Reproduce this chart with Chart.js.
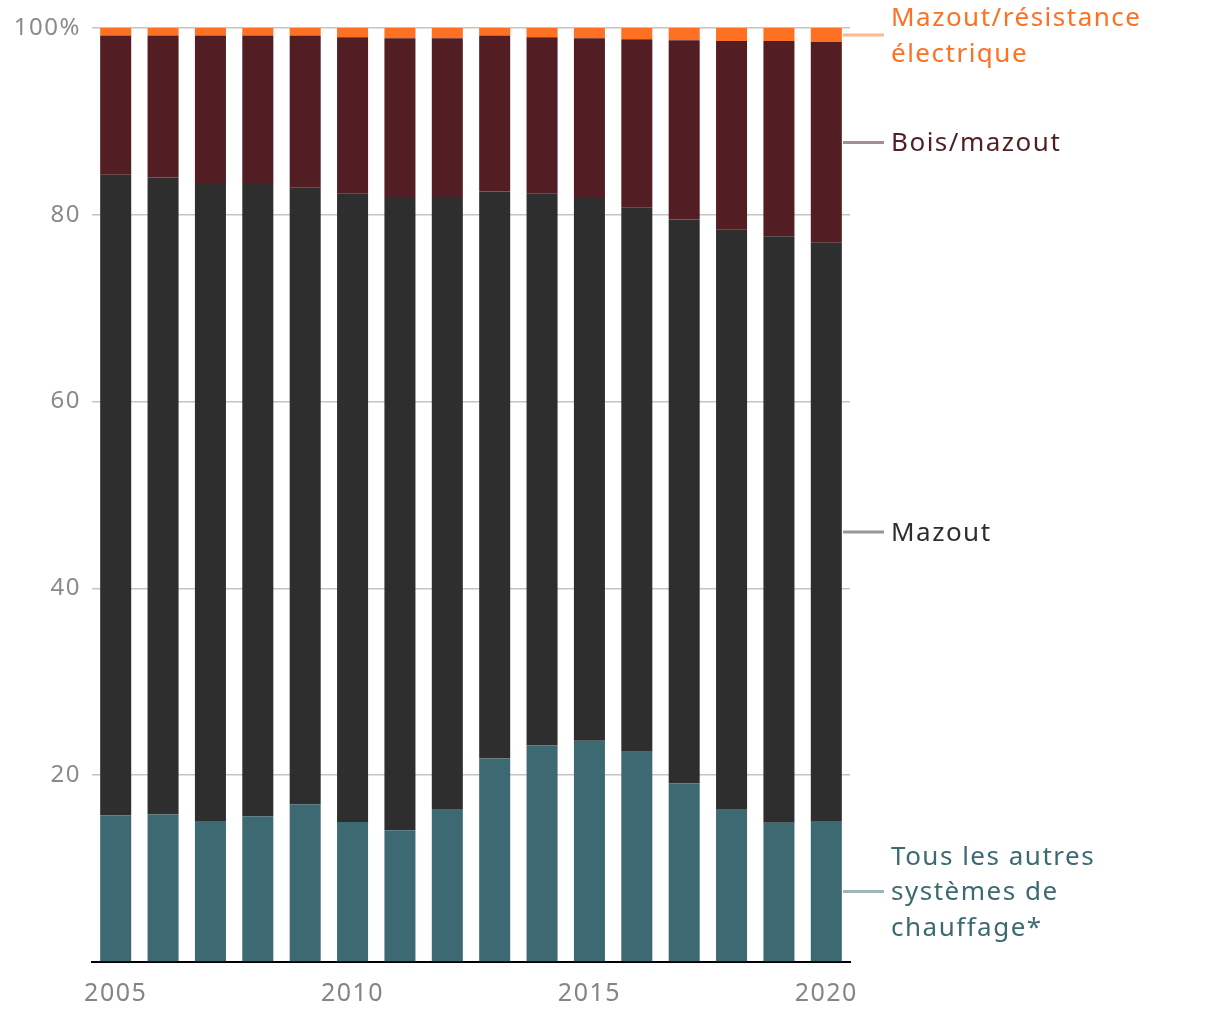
<!DOCTYPE html>
<html lang="fr">
<head>
    <meta charset="UTF-8">
    <title>Systèmes de chauffage</title>
    <script src="https://cdn.jsdelivr.net/npm/chart.js"></script>
    <style>
        html, body { margin: 0; padding: 0; background: #fff; }
        #wrap { width: 1220px; height: 1020px; }
    </style>
</head>
<body>
    <div id="wrap"><canvas id="chauffage" width="1220" height="1020"></canvas></div>

    <script>
        // Données (en %)
        const annees = ["2005", "2006", "2007", "2008", "2009", "2010", "2011", "2012",
                        "2013", "2014", "2015", "2016", "2017", "2018", "2019", "2020"];
        const autres = [15.7, 15.8, 15.1, 15.6, 16.9, 15.0, 14.1, 16.3, 21.8, 23.2, 23.7, 22.5, 19.1, 16.3, 14.9, 15.1];
        const mazout = [68.6, 68.2, 68.2, 67.7, 66.0, 67.3, 67.8, 65.6, 60.7, 59.1, 58.2, 58.3, 60.4, 62.1, 62.8, 61.9];
        const boisMazout = [14.9, 15.2, 15.9, 15.9, 16.3, 16.7, 17.0, 17.0, 16.7, 16.7, 17.0, 18.0, 19.2, 20.2, 20.9, 21.5];
        const mazoutResistance = [0.8, 0.8, 0.8, 0.8, 0.8, 1.0, 1.1, 1.1, 0.8, 1.0, 1.1, 1.2, 1.3, 1.4, 1.4, 1.5];
        const yTicks = [0, 20, 40, 60, 80, 100];
        const xTicksAffiches = ["2005", "2010", "2015", "2020"];

        const FONT = "'Noto Sans', sans-serif";

        // étiquettes à droite, alignées sur le milieu du segment de la dernière barre
        const etiquettes = [
            { lignes: ["Tous les autres", "systèmes de", "chauffage*"], couleur: '#3d6a72', trait: '#9fb5b8' },
            { lignes: ["Mazout"], couleur: '#2e2e2e', trait: '#979797' },
            { lignes: ["Bois/mazout"], couleur: '#521e23', trait: '#a88e90' },
            { lignes: ["Mazout/résistance", "électrique"], couleur: '#ff7022', trait: '#ffb890' }
        ];

        const espacementPlugin = {
            id: 'espacement',
            beforeDraw(chart) { chart.ctx.letterSpacing = '1.5px'; }
        };

        const etiquettesPlugin = {
            id: 'etiquettesDroite',
            afterDatasetsDraw(chart) {
                const ctx = chart.ctx;
                const y = chart.scales.y;
                const area = chart.chartArea;
                const dernier = annees.length - 1;
                let bas = 0;
                ctx.save();
                chart.data.datasets.forEach((ds, i) => {
                    const v = ds.data[dernier];
                    const milieu = y.getPixelForValue(bas + v / 2);
                    bas += v;
                    const e = etiquettes[i];
                    ctx.strokeStyle = e.trait;
                    ctx.lineWidth = 3;
                    ctx.beginPath();
                    ctx.moveTo(area.right - 7, milieu);
                    ctx.lineTo(area.right + 34, milieu);
                    ctx.stroke();

                    ctx.fillStyle = e.couleur;
                    ctx.font = '26px ' + FONT;
                    ctx.letterSpacing = '1.5px';
                    ctx.textAlign = 'left';
                    ctx.textBaseline = 'middle';
                    const hl = 35.5;
                    const debut = milieu + 1.5 - (e.lignes.length - 1) * hl / 2;
                    e.lignes.forEach((t, k) => ctx.fillText(t, area.right + 41, debut + k * hl));
                });
                ctx.restore();
            }
        };

        new Chart(document.getElementById('chauffage'), {
            type: 'bar',
            data: {
                labels: annees,
                datasets: [
                    { label: 'Tous les autres systèmes de chauffage*', data: autres, backgroundColor: '#3d6a72' },
                    { label: 'Mazout', data: mazout, backgroundColor: '#2e2e2e' },
                    { label: 'Bois/mazout', data: boisMazout, backgroundColor: '#521e23' },
                    { label: 'Mazout/résistance électrique', data: mazoutResistance, backgroundColor: '#ff7022' }
                ]
            },
            options: {
                responsive: false,
                animation: false,
                barPercentage: 0.655,
                categoryPercentage: 1,
                layout: { padding: { top: 28, right: 370, bottom: 0, left: 0 } },
                plugins: {
                    legend: { display: false },
                    tooltip: { enabled: false }
                },
                scales: {
                    x: {
                        stacked: true,
                        grid: { display: false },
                        border: { display: true, color: '#000', width: 2 },
                        afterFit(scale) { scale.height = 58; },
                        ticks: {
                            autoSkip: false,
                            maxRotation: 0,
                            padding: 9,
                            color: '#858585',
                            font: { family: FONT, size: 25 },
                            callback(val) {
                                const l = annees[val];
                                return xTicksAffiches.includes(l) ? l : '';
                            }
                        }
                    },
                    y: {
                        stacked: true,
                        min: 0,
                        max: 100,
                        afterFit(scale) { scale.width = 92; },
                        afterBuildTicks(scale) { scale.ticks = yTicks.map(v => ({ value: v })); },
                        border: { display: false },
                        grid: { color: '#c4c4c4', lineWidth: 1.5, drawTicks: false },
                        ticks: {
                            padding: 11,
                            color: '#8a8a8a',
                            font: { family: FONT, size: 24 },
                            callback(v) {
                                if (v === 0) return '';
                                return v === 100 ? v + '%' : v;
                            }
                        }
                    }
                }
            },
            plugins: [espacementPlugin, etiquettesPlugin]
        });
    </script>
</body>
</html>
